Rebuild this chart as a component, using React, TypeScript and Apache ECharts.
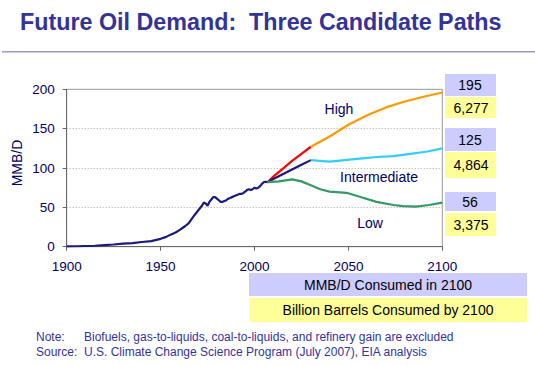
import React, { useEffect, useRef } from "react";
import * as echarts from "echarts";

const historyYears = [1900, 1905, 1910, 1915, 1920, 1925, 1930, 1935, 1940, 1945, 1950, 1953, 1955, 1958, 1960, 1963, 1965, 1968, 1970, 1972, 1973, 1974, 1975, 1976, 1977, 1978, 1979, 1980, 1981, 1982, 1983, 1984, 1985, 1986, 1987, 1988, 1989, 1990, 1991, 1992, 1993, 1994, 1995, 1996, 1997, 1998, 1999, 2000, 2001, 2002, 2003, 2004, 2005, 2006, 2007];
const historyValues = [0.5, 0.6, 0.9, 1.2, 2, 2.8, 3.8, 4.5, 6, 7, 10, 12.5, 15, 18, 21, 26, 30, 40, 46, 52, 56, 55, 52, 57, 60, 63, 63, 61, 59, 57, 57, 58, 59, 61, 62, 63, 64, 65, 66, 67, 67, 68, 70, 72, 73, 72, 73, 75, 74, 75, 77, 80, 82, 82.5, 82];

const highEarlyYears = [2007, 2010, 2015, 2020, 2025, 2030];
const highEarlyValues = [82, 89, 99, 109, 118, 127];
const highLateYears = [2030, 2040, 2050, 2060, 2070, 2080, 2090, 2100];
const highLateValues = [127, 140, 155, 167, 177, 184.5, 190.5, 196];

const midEarlyYears = [2007, 2010, 2015, 2020, 2025, 2030];
const midEarlyValues = [82, 86, 92, 98, 104, 110];
const midLateYears = [2030, 2035, 2040, 2048, 2056, 2065, 2074, 2083, 2092, 2100];
const midLateValues = [110, 109, 108, 110, 112, 114, 115, 118, 121, 125];

const lowYears = [2007, 2013, 2020, 2025, 2030, 2035, 2040, 2049, 2056, 2065, 2074, 2079, 2086, 2093, 2100];
const lowValues = [82, 83, 85.5, 83, 78, 73, 70, 68.5, 63.5, 57, 53, 51.5, 51, 53, 56];

const boxRate = ["195", "125", "56"];
const boxTotal = ["6,277", "4,864", "3,375"];
const yTicks = [0, 50, 100, 150, 200];
const xTicks = [1900, 1950, 2000, 2050, 2100];

const zip = (xs: number[], ys: number[]) => xs.map((x, i) => [x, ys[i]]);

export default function App() {
  const ref = useRef<HTMLDivElement>(null);
  useEffect(() => {
    document.body.style.margin = "0";
    const chart = echarts.init(ref.current!, null, { renderer: "svg" });
    const font = "'Liberation Sans', Arial, Helvetica, sans-serif";
    const lineSeries = (name: string, data: number[][], color: string) => ({
      name,
      type: "line",
      data,
      showSymbol: false,
      symbol: "none",
      smooth: false,
      lineStyle: { color, width: 2.2 },
      itemStyle: { color },
      z: 3,
    });
    const boxTops = [
      { rateY: 74, rateH: 22, totY: 97, totH: 21 },
      { rateY: 128, rateH: 23, totY: 152, totH: 26 },
      { rateY: 192, rateH: 19, totY: 213, totH: 23 },
    ];
    const boxGraphics: any[] = [];
    boxTops.forEach((b, i) => {
      boxGraphics.push({
        type: "rect",
        shape: { x: 445, y: b.rateY, width: 51, height: b.rateH },
        style: { fill: "#CCCCFF" },
      });
      boxGraphics.push({
        type: "rect",
        shape: { x: 445, y: b.totY, width: 51, height: b.totH },
        style: { fill: "#FFFF99" },
      });
      boxGraphics.push({
        type: "text",
        x: 470,
        y: b.rateY + b.rateH / 2,
        style: { text: boxRate[i], fill: "#000", font: `14px ${font}`, textAlign: "center", textVerticalAlign: "middle" },
      });
      boxGraphics.push({
        type: "text",
        x: 471,
        y: b.totY + b.totH / 2,
        style: { text: boxTotal[i], fill: "#000", font: `14px ${font}`, textAlign: "center", textVerticalAlign: "middle" },
      });
    });
    chart.setOption({
      animation: false,
      grid: {
        left: 66.7,
        right: 92.7,
        top: 89.3,
        bottom: 119.3,
        show: true,
        borderColor: "#999",
        borderWidth: 1,
        containLabel: false,
      },
      xAxis: {
        type: "value",
        min: xTicks[0],
        max: xTicks[xTicks.length - 1],
        interval: 50,
        axisLine: { show: true, lineStyle: { color: "#666", width: 1 } },
        axisTick: { show: true, length: 4, lineStyle: { color: "#666" } },
        axisLabel: { color: "#000066", fontSize: 13.5, fontFamily: font, margin: 13, formatter: (v: number) => String(v) },
        splitLine: { show: false },
      },
      yAxis: {
        type: "value",
        min: yTicks[0],
        max: yTicks[yTicks.length - 1],
        interval: 50,
        axisLine: { show: true, lineStyle: { color: "#666", width: 1 } },
        axisTick: { show: true, length: 4, lineStyle: { color: "#666" } },
        axisLabel: { color: "#000066", fontSize: 13.5, fontFamily: font, margin: 12, formatter: (v: number) => String(v) },
        splitLine: { show: true, lineStyle: { color: "#aaa", type: [1, 2], width: 1 } },
      },
      series: [
        lineSeries("History", zip(historyYears, historyValues), "#1A1A80"),
        lineSeries("High (to 2030)", zip(highEarlyYears, highEarlyValues), "#FF0000"),
        lineSeries("High", zip(highLateYears, highLateValues), "#FF9900"),
        lineSeries("Intermediate (to 2030)", zip(midEarlyYears, midEarlyValues), "#1A1A80"),
        lineSeries("Intermediate", zip(midLateYears, midLateValues), "#33CCFF"),
        lineSeries("Low", zip(lowYears, lowValues), "#339966"),
      ],
      graphic: [
        {
          type: "text",
          x: 20,
          y: 22,
          style: {
            text: "Future Oil Demand:  Three Candidate Paths",
            fill: "#333399",
            font: `bold 23.3px ${font}`,
            textAlign: "left",
            textVerticalAlign: "middle",
          },
        },
        {
          type: "rect",
          shape: { x: 2, y: 51, width: 533, height: 1.5 },
          style: { fill: "#9999CC" },
        },
        {
          type: "text",
          x: 17,
          y: 163,
          rotation: Math.PI / 2,
          style: { text: "MMB/D", fill: "#000066", font: `14px ${font}`, textAlign: "center", textVerticalAlign: "middle" },
        },
        {
          type: "text",
          x: 339,
          y: 109,
          style: { text: "High", fill: "#000066", font: `14px ${font}`, textAlign: "center", textVerticalAlign: "middle" },
        },
        {
          type: "text",
          x: 379,
          y: 177,
          style: { text: "Intermediate", fill: "#000066", font: `14px ${font}`, textAlign: "center", textVerticalAlign: "middle" },
        },
        {
          type: "text",
          x: 370,
          y: 223,
          style: { text: "Low", fill: "#000066", font: `14px ${font}`, textAlign: "center", textVerticalAlign: "middle" },
        },
        ...boxGraphics,
        {
          type: "rect",
          shape: { x: 249, y: 273, width: 278, height: 23 },
          style: { fill: "#CCCCFF" },
        },
        {
          type: "rect",
          shape: { x: 249, y: 298, width: 278, height: 24 },
          style: { fill: "#FFFF99" },
        },
        {
          type: "text",
          x: 388,
          y: 284.5,
          style: { text: "MMB/D Consumed in 2100", fill: "#000", font: `14px ${font}`, textAlign: "center", textVerticalAlign: "middle" },
        },
        {
          type: "text",
          x: 388,
          y: 310,
          style: { text: "Billion Barrels Consumed by 2100", fill: "#000", font: `14px ${font}`, textAlign: "center", textVerticalAlign: "middle" },
        },
        {
          type: "text",
          x: 36,
          y: 337,
          style: { text: "Note:", fill: "#3333A0", font: `12px ${font}`, textAlign: "left", textVerticalAlign: "middle" },
        },
        {
          type: "text",
          x: 84,
          y: 337,
          style: { text: "Biofuels, gas-to-liquids, coal-to-liquids, and refinery gain are excluded", fill: "#3333A0", font: `12px ${font}`, textAlign: "left", textVerticalAlign: "middle" },
        },
        {
          type: "text",
          x: 36,
          y: 352,
          style: { text: "Source:", fill: "#3333A0", font: `12px ${font}`, textAlign: "left", textVerticalAlign: "middle" },
        },
        {
          type: "text",
          x: 84,
          y: 352,
          style: { text: "U.S. Climate Change Science Program (July 2007), EIA analysis", fill: "#3333A0", font: `12px ${font}`, textAlign: "left", textVerticalAlign: "middle" },
        },
      ],
    });
    return () => chart.dispose();
  }, []);
  return <div ref={ref} style={{ width: 535, height: 366 }} />;
}
